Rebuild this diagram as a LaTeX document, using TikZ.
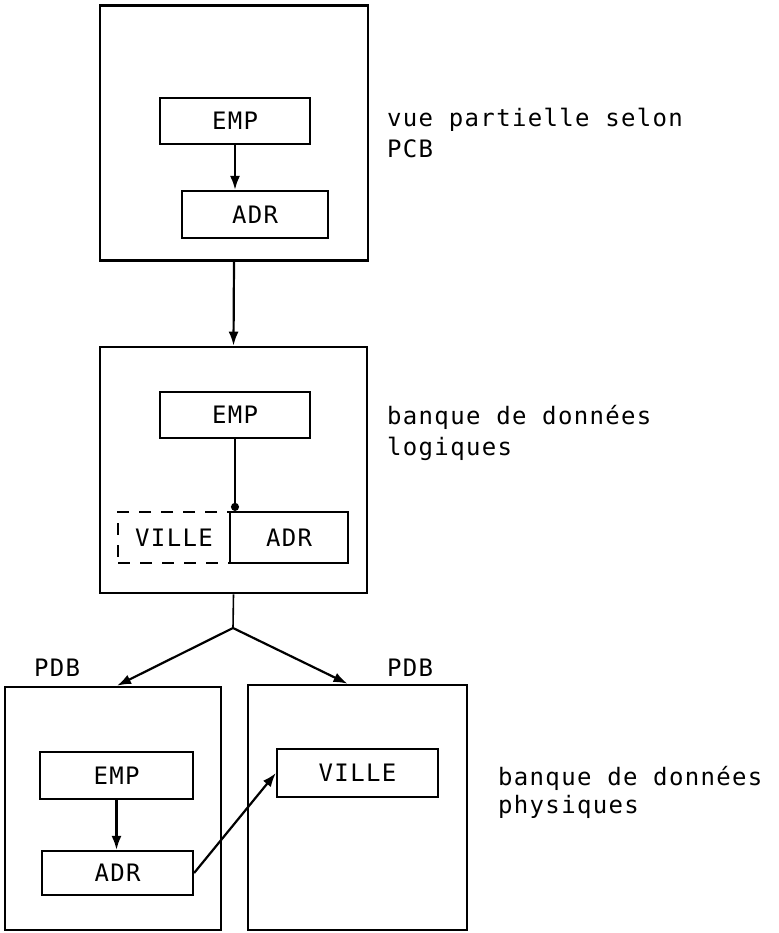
\documentclass[tikz,border=0pt]{standalone}
\usepackage{fontspec}
\newfontfamily\plotfont[LetterSpace=5.5]{DejaVu Sans Mono}
\usepackage{tikz}
\usetikzlibrary{shapes, arrows.meta, positioning, fit, backgrounds, calc}

\begin{document}
\begin{tikzpicture}[x=1pt, y=-1pt, >={Latex[length=14pt,width=10pt]},
	font=\plotfont\fontsize{24}{31}\selectfont,
	outerbox/.style={draw, line width=2.6pt, inner sep=0pt},
	segbox/.style={draw, line width=2.2pt, inner sep=0pt, minimum height=46pt},
	virtbox/.style={segbox, dashed, dash pattern=on 12pt off 10pt},
	link/.style={line width=2.2pt},
	sidetext/.style={anchor=base west, align=left, inner sep=0pt}]
			\useasboundingbox (0,0) rectangle (778,933);
			\node[outerbox, minimum width=268pt, minimum height=255pt] (vue) at (234,133) {};
			\node[segbox, minimum width=150pt] (emp1) at (235,121) {EMP};
			\node[segbox, minimum width=146pt, minimum height=47pt] (adr1) at (255,214.5) {ADR};
			\draw[link, ->] (emp1) -- (emp1 |- adr1.north);
			\node[sidetext] (txtvue) at (387,158) {vue partielle selon\\PCB};
			\node[outerbox, minimum width=267pt, minimum height=246pt] (logique) at (233.5,470) {};
			\draw[link, ->] (vue.south) -- (logique.north);
			\node[segbox, minimum width=150pt] (emp2) at (235,415) {EMP};
			\node[segbox, minimum width=118pt, minimum height=51pt] (adr2) at (289,537.5) {ADR};
			\node[virtbox, minimum width=112pt, minimum height=51pt] (ville2) at (174,537.5) {VILLE};
			\draw[line width=1.8pt, -{Circle[length=8pt]}] (emp2) -- (emp2 |- adr2.north);
			\node[sidetext] (txtlog) at (387,455) {banque de données\\logiques};
			\node[outerbox, minimum width=216pt, minimum height=243pt] (pdb1) at (113,808.5) {};
			\node[outerbox, minimum width=219pt, minimum height=245pt] (pdb2) at (357.5,807.5) {};
			\coordinate (split) at (233,628);
			\draw[line width=1.6pt] (logique.south) -- (split);
			\draw[link, ->] (split) -- ([xshift=4pt]pdb1.north);
			\draw[link, ->] (split) -- ([xshift=-10pt]pdb2.north);
			\node (pdbl) at (57,668) {PDB};
			\node (pdbr) at (410,668) {PDB};
			\node[segbox, minimum width=153pt, minimum height=47pt] (emp3) at (116.5,775.5) {EMP};
			\node[segbox, minimum width=151pt, minimum height=44pt] (adr3) at (117.5,873) {ADR};
			\node[segbox, minimum width=161pt, minimum height=48pt] (ville4) at (357.5,773) {VILLE};
			\draw[link, ->] (emp3) -- (emp3 |- adr3.north);
			\draw[link, ->] (adr3.east) -- (ville4.west);
			\node[sidetext] (txtphy) at (498,813) {banque de données\\[-3pt]physiques};
		\end{tikzpicture}
\end{document}
